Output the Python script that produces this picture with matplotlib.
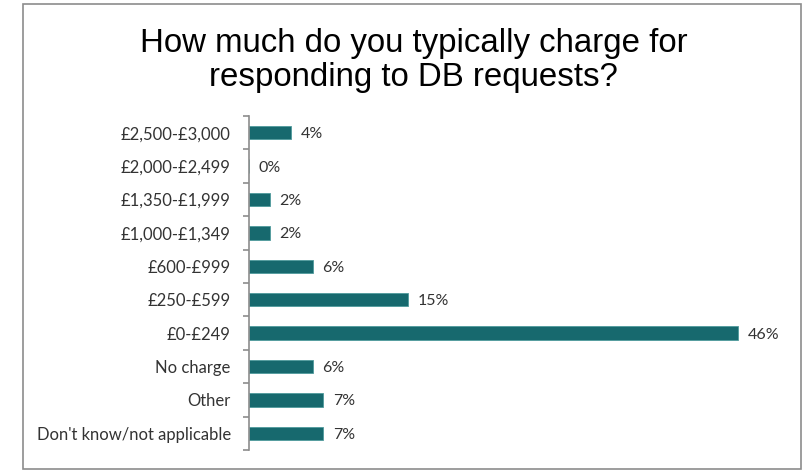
import matplotlib.pyplot as plt
from matplotlib.patches import Rectangle
from matplotlib.ticker import FixedLocator

# survey answers, top to bottom
categories = ['£2,500-£3,000', '£2,000-£2,499', '£1,350-£1,999', '£1,000-£1,349',
              '£600-£999', '£250-£599', '£0-£249', 'No charge', 'Other',
              "Don't know/not applicable"]
percent = [4, 0, 2, 2, 6, 15, 46, 6, 7, 7]

title = 'How much do you typically charge for\nresponding to DB requests?'
bar_color = '#17696e'
label_font = 'Lato'

fig = plt.figure(figsize=(8.08, 4.70), dpi=100)

# grey border round the whole chart
fig.patches.append(Rectangle((0.0285, 0.002), 0.963, 0.989, transform=fig.transFigure,
                             fill=False, edgecolor='#8c8c8c', linewidth=1.2))

fig.text(0.512, 0.94, title, ha='center', va='top', fontsize=23.8,
         family='Liberation Sans', linespacing=1.12, color='black')

ax = fig.add_axes([0.308, 0.0426, 0.658, 0.7104])
y = list(range(len(categories)))
bars = ax.barh(y, percent, height=0.4, color=bar_color, edgecolor='#4f9a9c', linewidth=0.6)

for rect, v in zip(bars, percent):
    ax.text(rect.get_width() + 0.9, rect.get_y() + rect.get_height() / 2, f'{v}%',
            va='center_baseline', ha='left', fontsize=11.5, family=label_font, color='#333333')

ax.set_ylim(len(categories) - 0.5, -0.5)
ax.set_xlim(0, 50)

for side in ['top', 'right', 'bottom']:
    ax.spines[side].set_visible(False)
ax.spines['left'].set_color('#8c8c8c')
ax.spines['left'].set_linewidth(1.2)
ax.set_xticks([])

# labels sit between the tick marks, as in a category axis
ax.yaxis.set_major_locator(FixedLocator([i - 0.5 for i in range(len(categories) + 1)]))
ax.yaxis.set_minor_locator(FixedLocator(y))
ax.set_yticklabels([], minor=False)
ax.set_yticklabels(categories, minor=True, fontsize=12, family=label_font, color='#333333')
ax.tick_params(axis='y', which='major', length=4, width=1.2, color='#8c8c8c')
ax.tick_params(axis='y', which='minor', length=0, pad=13)

fig.savefig('out.png', dpi=100)
